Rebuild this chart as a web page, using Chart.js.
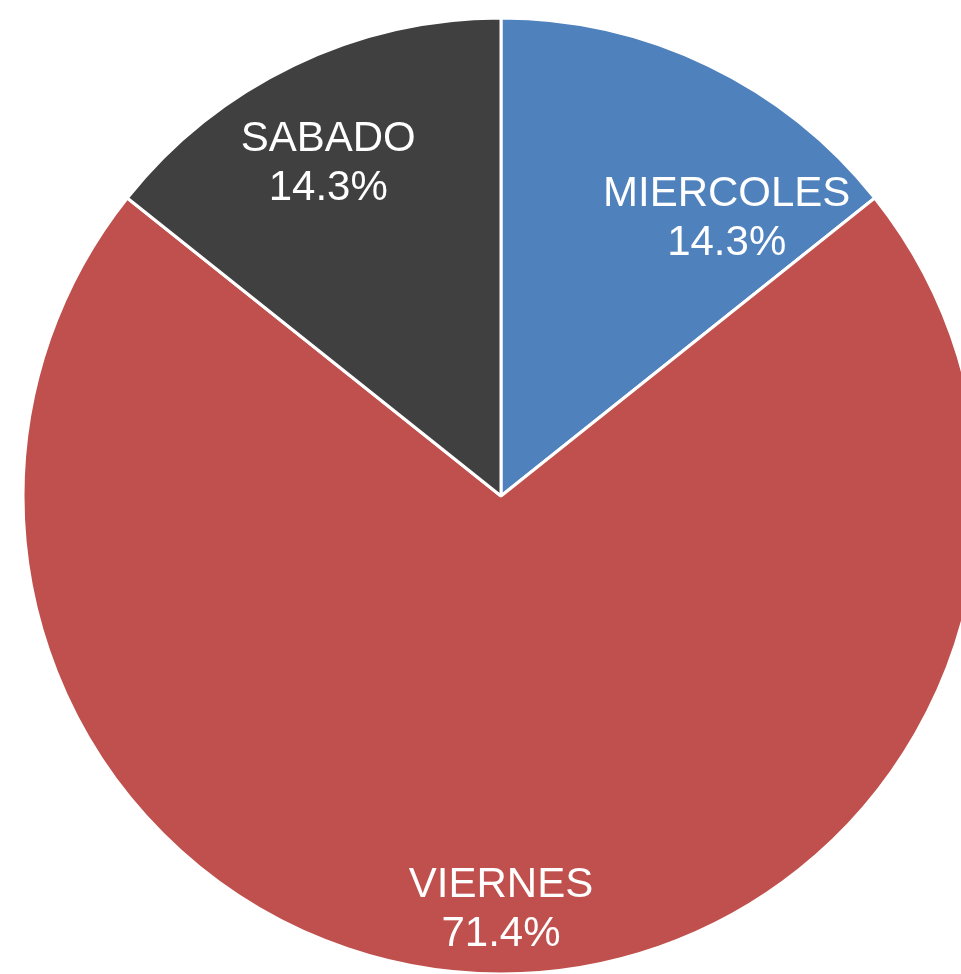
<!DOCTYPE html>
<html>
<head>
<meta charset="utf-8">
<script src="https://cdn.jsdelivr.net/npm/chart.js@4"></script>
<style>
    html, body { margin: 0; padding: 0; background: #fff; overflow: hidden; }
    #wrap { position: relative; width: 961px; height: 974px; overflow: hidden; }
    #chartDays { position: absolute; left: 0; top: 0; }
</style>
</head>
<body>
<div id="wrap">
    <canvas id="chartDays" width="1002" height="992"></canvas>
</div>
<script>
const categories = ['MIERCOLES', 'VIERNES', 'SABADO']
const values = [1, 5, 1]

const sliceColors = ['#4F81BD', '#C0504D', '#404040']

// label placement per slice: radius fraction + angle shift (deg)
const labelPos = [
    { r: 0.75, shift: 13.3 },
    { r: 0.862, shift: 0 },
    { r: 0.785, shift: -1.7 }
]

const total = values.reduce((a, b) => a + b, 0)

// draws "NAME\nxx.x%" inside each slice
const sliceLabels = {
    id: 'sliceLabels',
    afterDatasetsDraw(chart) {
        const ctx = chart.ctx
        const arcs = chart.getDatasetMeta(0).data
        ctx.save()
        ctx.fillStyle = '#fff'
        ctx.font = '42px "Liberation Sans", Arial, sans-serif'
        ctx.textAlign = 'center'
        ctx.textBaseline = 'middle'
        arcs.forEach((arc, i) => {
            const p = arc.getProps(['x', 'y', 'startAngle', 'endAngle', 'outerRadius'], true)
            const mid = (p.startAngle + p.endAngle) / 2 + labelPos[i].shift * Math.PI / 180
            const r = p.outerRadius * labelPos[i].r
            const cx = p.x + Math.cos(mid) * r
            const cy = p.y + Math.sin(mid) * r
            const pct = (values[i] / total * 100).toFixed(1) + '%'
            ctx.fillText(categories[i], cx, cy - 23)
            ctx.fillText(pct, cx, cy + 26)
        })
        ctx.restore()
    }
}

new Chart(document.getElementById('chartDays'), {
    type: 'pie',
    data: {
        labels: categories,
        datasets: [{
            data: values,
            backgroundColor: sliceColors,
            borderColor: '#fff',
            borderWidth: 3
        }]
    },
    options: {
        responsive: false,
        animation: false,
        radius: 478,
        layout: { padding: 0 },
        plugins: {
            legend: { display: false },
            tooltip: { enabled: false }
        }
    },
    plugins: [sliceLabels]
})
</script>
</body>
</html>
